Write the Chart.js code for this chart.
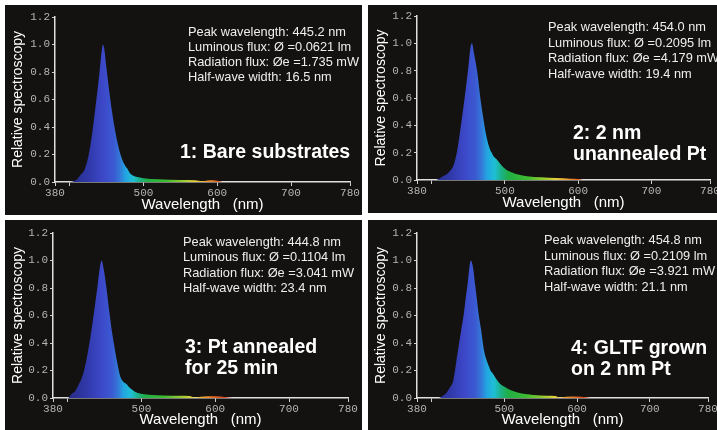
<!DOCTYPE html>
<html>
<head>
<meta charset="utf-8">
<script src="https://cdn.jsdelivr.net/npm/chart.js@4"></script>
<style>
  body { margin: 0; background: #fff; width: 717px; height: 430px; overflow: hidden; position: relative;
         font-family: "Liberation Sans", Arial, sans-serif; }
  .panel { position: absolute; background: #131211; overflow: hidden; }
  .panel canvas { position: absolute; left: 0; top: 0; }
  .info { position: absolute; color: #eee; font-size: 12.8px; white-space: nowrap; }
  .tag { position: absolute; color: #fff; font-weight: bold; font-size: 19.5px; line-height: 21px; white-space: nowrap; }
</style>
</head>
<body>
<script>
// spectra (wavelength nm / relative intensity)
const wl1 = [380, 400, 405, 410, 415, 420, 425, 430, 435, 440, 443, 445, 447, 450, 455, 460, 465, 470, 475, 479, 481, 485, 490, 500, 520, 550, 570, 580, 590, 600, 610, 780];
const sp1 = [0, 0, 0.005, 0.02, 0.055, 0.09, 0.18, 0.34, 0.55, 0.78, 0.94, 1.0, 0.96, 0.82, 0.6, 0.42, 0.28, 0.18, 0.12, 0.09, 0.07, 0.05, 0.038, 0.028, 0.02, 0.015, 0.013, 0.006, 0.012, 0.01, 0, 0];

const wl2 = [380, 405, 410, 415, 420, 425, 430, 435, 440, 445, 450, 453, 455, 458, 462, 467, 470, 474, 478, 480, 482, 485, 489, 495, 502, 510, 518, 530, 550, 570, 590, 600, 610, 780];
const sp2 = [0, 0, 0.01, 0.025, 0.04, 0.065, 0.11, 0.22, 0.4, 0.6, 0.82, 0.97, 1.0, 0.92, 0.8, 0.58, 0.47, 0.34, 0.25, 0.22, 0.2, 0.17, 0.15, 0.11, 0.075, 0.055, 0.04, 0.028, 0.02, 0.014, 0.01, 0.008, 0, 0];

const wl3 = [380, 400, 405, 410, 415, 420, 425, 430, 435, 440, 443, 446, 449, 452, 457, 460, 464, 467, 471, 475, 480, 482, 490, 498, 510, 530, 550, 565, 572, 580, 600, 615, 625, 780];
const sp3 = [0, 0, 0.03, 0.05, 0.1, 0.16, 0.27, 0.42, 0.6, 0.8, 0.93, 1.0, 0.93, 0.82, 0.6, 0.48, 0.35, 0.26, 0.16, 0.12, 0.1, 0.085, 0.05, 0.032, 0.024, 0.018, 0.016, 0.014, 0.004, 0.01, 0.012, 0.006, 0, 0];

const wl4 = [380, 410, 415, 420, 425, 430, 435, 440, 444, 447, 450, 452, 454, 457, 460, 465, 468, 472, 476, 479, 481, 484, 487, 493, 501, 510, 524, 540, 560, 570, 576, 585, 600, 612, 620, 780];
const sp4 = [0, 0, 0.015, 0.035, 0.075, 0.13, 0.3, 0.47, 0.6, 0.73, 0.85, 0.95, 1.0, 0.95, 0.82, 0.6, 0.5, 0.35, 0.27, 0.23, 0.2, 0.18, 0.155, 0.11, 0.08, 0.055, 0.032, 0.022, 0.016, 0.014, 0.004, 0.01, 0.011, 0.005, 0, 0];

const xTicks = [380, 400, 500, 600, 700, 780];
const xTickLabels = ['380', '', '500', '600', '700', '780'];

const tags = [
  ['1: Bare substrates'],
  ['2: 2 nm', 'unannealed Pt'],
  ['3: Pt annealed', 'for 25 min'],
  ['4: GLTF grown', 'on 2 nm Pt']
];
const infos = [
  ['Peak wavelength: 445.2 nm', 'Luminous flux: Ø =0.0621 lm', 'Radiation flux: Øe =1.735 mW', 'Half-wave width: 16.5 nm'],
  ['Peak wavelength: 454.0 nm', 'Luminous flux: Ø =0.2095 lm', 'Radiation flux: Øe =4.179 mW', 'Half-wave width: 19.4 nm'],
  ['Peak wavelength: 444.8 nm', 'Luminous flux: Ø =0.1104 lm', 'Radiation flux: Øe =3.041 mW', 'Half-wave width: 23.4 nm'],
  ['Peak wavelength: 454.8 nm', 'Luminous flux: Ø =0.2109 lm', 'Radiation flux: Øe =3.921 mW', 'Half-wave width: 21.1 nm']
];

// colour of the fill along the wavelength axis
const spectrumStops = [
  [380, '#20246e'], [425, '#3038a8'], [445, '#3c48c8'], [460, '#3b5ad2'], [468, '#3478d8'],
  [476, '#22a6e2'], [486, '#1ebfd4'], [495, '#1cb28a'], [505, '#1fae46'], [530, '#3cbc32'],
  [555, '#9ccc30'], [570, '#e6d040'], [585, '#f0a232'], [600, '#e86422'], [620, '#d03420'], [780, '#a82020']
];

// panel boxes and inner chart placement
const panels = [
  { left: 5,   top: 5,   w: 357, h: 210, cw: 357, yw: 50, xh: 33, padTop: 12, padRight: 12,
    info: [188, 24, 15], tag: [180, 141] },
  { left: 368, top: 5,   w: 349, h: 208, cw: 360, yw: 49, xh: 33, padTop: 11, padRight: 18,
    info: [548, 19, 15.7], tag: [573, 122] },
  { left: 5,   top: 220, w: 357, h: 210, cw: 357, yw: 48, xh: 32, padTop: 13, padRight: 14,
    info: [183, 234, 15.3], tag: [185, 336] },
  { left: 368, top: 220, w: 349, h: 210, cw: 360, yw: 49, xh: 32, padTop: 13, padRight: 20,
    info: [544, 232, 15.5], tag: [571, 337] }
];
const series = [[wl1, sp1], [wl2, sp2], [wl3, sp3], [wl4, sp4]];

const tickFont = { family: '"Liberation Mono", "Courier New", monospace', size: 11 };

function fillGradient(c) {
  const chart = c.chart;
  if (!chart.chartArea) return '#3c48c8';
  const x = chart.scales.x;
  const x0 = x.getPixelForValue(380), x1 = x.getPixelForValue(780);
  const g = chart.ctx.createLinearGradient(x0, 0, x1, 0);
  spectrumStops.forEach(([w, col]) => g.addColorStop((w - 380) / 400, col));
  return g;
}

panels.forEach((p, i) => {
  const box = document.createElement('div');
  box.className = 'panel';
  Object.assign(box.style, { left: p.left + 'px', top: p.top + 'px', width: p.w + 'px', height: p.h + 'px' });
  const cv = document.createElement('canvas');
  cv.width = p.cw; cv.height = p.h;
  cv.style.width = p.cw + 'px'; cv.style.height = p.h + 'px';
  box.appendChild(cv);
  document.body.appendChild(box);

  const [wl, sp] = series[i];
  new Chart(cv, {
    type: 'line',
    data: {
      datasets: [{
        data: wl.map((w, k) => ({ x: w, y: sp[k] })),
        backgroundColor: fillGradient,
        borderColor: 'transparent',
        borderWidth: 0,
        pointRadius: 0,
        fill: 'origin',
        cubicInterpolationMode: 'monotone'
      }]
    },
    options: {
      responsive: false,
      animation: false,
      devicePixelRatio: 1,
      layout: { padding: { top: p.padTop, right: p.padRight, left: 0, bottom: 0 } },
      plugins: { legend: { display: false }, tooltip: { enabled: false } },
      scales: {
        x: {
          type: 'linear', min: 380, max: 780,
          afterBuildTicks: s => { s.ticks = xTicks.map(v => ({ value: v })); },
          afterFit: s => { s.height = p.xh; },
          ticks: {
            autoSkip: false, maxRotation: 0, padding: 0, color: '#b4b4b4', font: tickFont,
            callback: v => xTickLabels[xTicks.indexOf(v)]
          },
          grid: { drawOnChartArea: false, color: '#cfcfcf', tickLength: 4 },
          border: { color: '#e0e0e0', width: 1.5 },
          title: { display: true, text: 'Wavelength   (nm)', color: '#fff',
                   font: { family: '"Liberation Sans", Arial, sans-serif', size: 15 },
                   padding: { top: 0, bottom: 1 } }
        },
        y: {
          min: 0, max: 1.2,
          afterFit: s => { s.width = p.yw; },
          ticks: { stepSize: 0.2, padding: 2, color: '#b4b4b4', font: tickFont,
                   callback: v => v.toFixed(1) },
          grid: { drawOnChartArea: false, color: '#cfcfcf', tickLength: 3 },
          border: { color: '#e0e0e0', width: 1.5 },
          title: { display: true, text: 'Relative spectroscopy', color: '#fff',
                   font: { family: '"Liberation Sans", Arial, sans-serif', size: 14 },
                   padding: { top: 5, bottom: 0 } }
        }
      }
    }
  });

  const info = document.createElement('div');
  info.className = 'info';
  Object.assign(info.style, { left: p.info[0] + 'px', top: p.info[1] + 'px', lineHeight: p.info[2] + 'px' });
  info.innerHTML = infos[i].join('<br>');
  document.body.appendChild(info);

  const tag = document.createElement('div');
  tag.className = 'tag';
  Object.assign(tag.style, { left: p.tag[0] + 'px', top: p.tag[1] + 'px' });
  tag.innerHTML = tags[i].join('<br>');
  document.body.appendChild(tag);
});
</script>
</body>
</html>
